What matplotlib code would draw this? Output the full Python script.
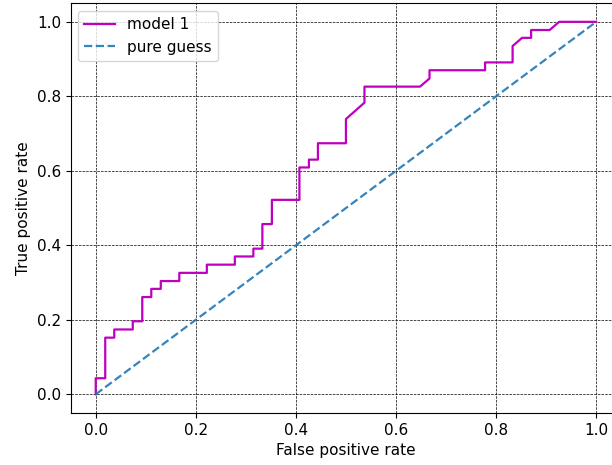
import matplotlib
matplotlib.use("Agg")
import matplotlib.pyplot as plt

fpr = [0.0, 0.0, 0.019, 0.019, 0.037, 0.037, 0.074, 0.074, 0.093, 0.093,
       0.111, 0.111, 0.130, 0.130, 0.167, 0.167, 0.222, 0.222, 0.278, 0.278,
       0.315, 0.315, 0.333, 0.333, 0.352, 0.352, 0.407, 0.407, 0.426, 0.426,
       0.444, 0.444, 0.500, 0.500, 0.537, 0.537, 0.648, 0.667, 0.667, 0.778,
       0.778, 0.833, 0.833, 0.852, 0.870, 0.870, 0.907, 0.926, 1.0]
tpr = [0.0, 0.043, 0.043, 0.152, 0.152, 0.174, 0.174, 0.196, 0.196, 0.261,
       0.261, 0.283, 0.283, 0.304, 0.304, 0.326, 0.326, 0.348, 0.348, 0.370,
       0.370, 0.391, 0.391, 0.457, 0.457, 0.522, 0.522, 0.609, 0.609, 0.630,
       0.630, 0.674, 0.674, 0.739, 0.783, 0.826, 0.826, 0.848, 0.870, 0.870,
       0.891, 0.891, 0.935, 0.957, 0.957, 0.978, 0.978, 1.0, 1.0]
guess = [0.0, 1.0]

plt.rcParams['font.size'] = 11

W, H = 612, 465
fig = plt.figure(figsize=(W / 100, H / 100), dpi=100)
ax = fig.add_axes([70.7 / W, (H - 412.9) / H, 550.5 / W, 409.7 / H])
ax.plot(fpr, tpr, color='m', linewidth=1.6, label='model 1')
ax.plot(guess, guess, linestyle='--', color='#1f77b4', alpha=0.9, linewidth=1.6, label='pure guess')
ax.set_xlabel('False positive rate')
ax.set_ylabel('True positive rate')
ax.grid(color='k', linestyle='--', linewidth=0.5)
ax.legend(loc='upper left')
fig.savefig('out.png', dpi=100)
